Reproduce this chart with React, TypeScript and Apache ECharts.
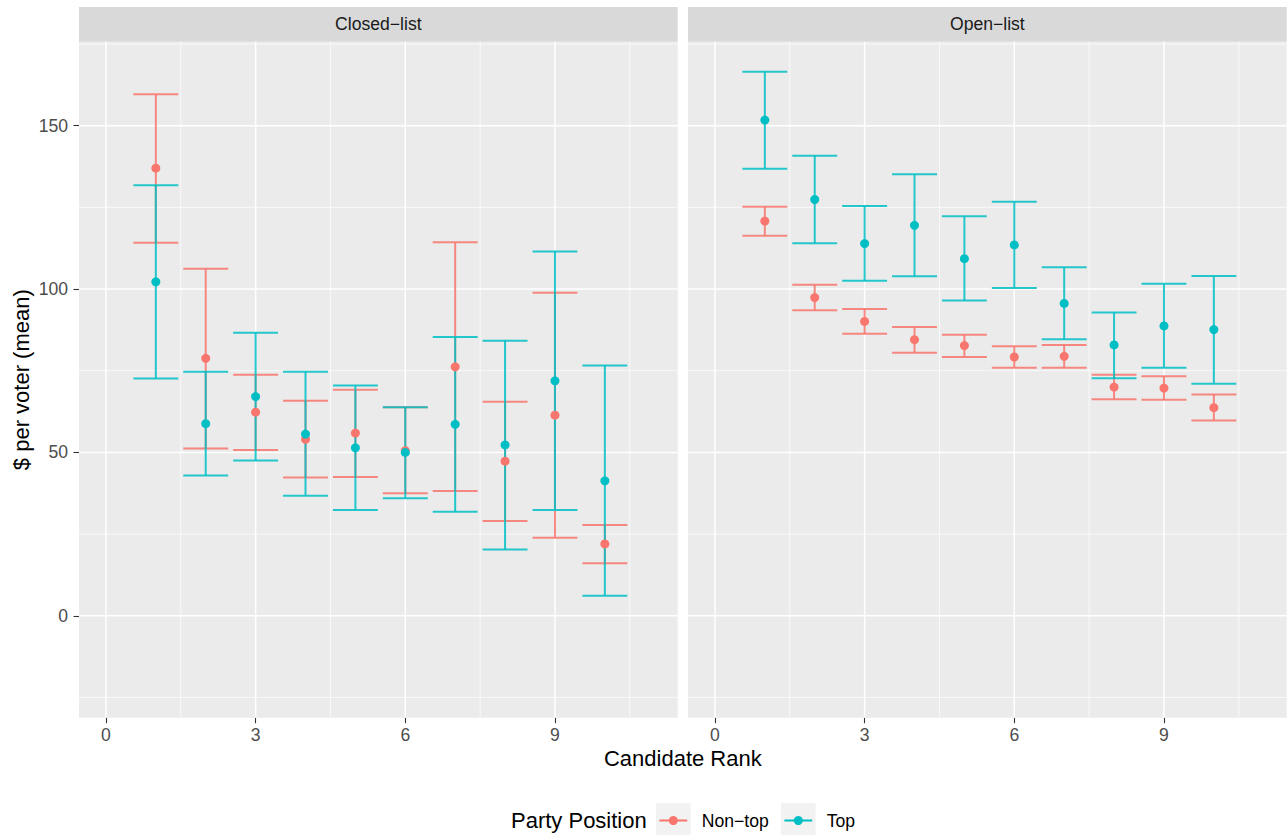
import React, { useEffect, useRef } from "react";
import * as echarts from "echarts";

const ranks = [1, 2, 3, 4, 5, 6, 7, 8, 9, 10];

const closedNonTopMean = [137.0, 78.8, 62.3, 54.0, 55.9, 50.5, 76.2, 47.3, 61.4, 22.0];
const closedNonTopLow = [114.2, 51.2, 50.7, 42.3, 42.5, 37.5, 38.2, 29.0, 23.9, 16.1];
const closedNonTopHigh = [159.6, 106.2, 73.8, 65.8, 69.2, 63.8, 114.3, 65.5, 98.9, 27.8];

const closedTopMean = [102.2, 58.8, 67.1, 55.6, 51.4, 50.0, 58.6, 52.3, 71.9, 41.3];
const closedTopLow = [72.6, 42.9, 47.5, 36.7, 32.4, 36.0, 31.8, 20.3, 32.4, 6.1];
const closedTopHigh = [131.8, 74.7, 86.6, 74.7, 70.5, 63.8, 85.3, 84.2, 111.5, 76.6];

const openNonTopMean = [120.8, 97.4, 90.1, 84.5, 82.7, 79.2, 79.4, 70.0, 69.7, 63.7];
const openNonTopLow = [116.3, 93.5, 86.3, 80.5, 79.2, 75.9, 75.9, 66.3, 66.1, 59.8];
const openNonTopHigh = [125.2, 101.3, 93.9, 88.4, 86.0, 82.5, 82.9, 73.8, 73.3, 67.7];

const openTopMean = [151.7, 127.4, 113.9, 119.5, 109.3, 113.5, 95.6, 82.9, 88.7, 87.6];
const openTopLow = [136.8, 114.0, 102.5, 103.9, 96.5, 100.3, 84.6, 72.7, 75.9, 71.0];
const openTopHigh = [166.5, 140.8, 125.4, 135.1, 122.3, 126.7, 106.7, 92.8, 101.6, 104.0];

const panelNames = ["Closed\u2212list", "Open\u2212list"];
const groupNames = ["Non\u2212top", "Top"];
const groupColors = ["#F8766D", "#00BFC4"];

const xMajorTicks = [0, 3, 6, 9];
const xMinorTicks = [1.5, 4.5, 7.5, 10.5];
const yMajorTicks = [0, 50, 100, 150];
const yMinorTicks = [-25, 25, 75, 125, 175];

const X_MIN = -0.54;
const X_MAX = 11.46;
const Y_MIN = -31.2;
const Y_MAX = 175.7;
const ERR_WIDTH = 0.9;

const FONT = "'Liberation Sans', Arial, Helvetica, sans-serif";

const panels = [
  {
    groups: [
      { mean: closedNonTopMean, low: closedNonTopLow, high: closedNonTopHigh },
      { mean: closedTopMean, low: closedTopLow, high: closedTopHigh },
    ],
  },
  {
    groups: [
      { mean: openNonTopMean, low: openNonTopLow, high: openNonTopHigh },
      { mean: openTopMean, low: openTopLow, high: openTopHigh },
    ],
  },
];

const GRID_TOP = 41.7;
const GRID_H = 676;
const GRID_W = 598.7;
const GRID_LEFTS = [79, 688];

function gridLineSeries(gi: number, values: number[], vertical: boolean, width: number) {
  return {
    type: "custom",
    xAxisIndex: gi,
    yAxisIndex: gi,
    silent: true,
    z: 1,
    clip: false,
    data: values.map((v) => (vertical ? [v, 0] : [0, v])),
    encode: { x: 0, y: 1 },
    renderItem: (params: any, api: any) => {
      const cs = params.coordSys;
      if (vertical) {
        const px = api.coord([api.value(0), 0])[0];
        return {
          type: "line",
          shape: { x1: px, y1: cs.y, x2: px, y2: cs.y + cs.height },
          style: { stroke: "#FFFFFF", lineWidth: width },
        };
      }
      const py = api.coord([0, api.value(1)])[1];
      return {
        type: "line",
        shape: { x1: cs.x, y1: py, x2: cs.x + cs.width, y2: py },
        style: { stroke: "#FFFFFF", lineWidth: width },
      };
    },
  };
}

function errorBarSeries(gi: number, name: string, color: string, low: number[], high: number[]) {
  return {
    type: "custom",
    name,
    xAxisIndex: gi,
    yAxisIndex: gi,
    silent: true,
    z: 2,
    data: ranks.map((r, i) => [r, low[i], high[i]]),
    encode: { x: 0, y: [1, 2] },
    renderItem: (params: any, api: any) => {
      const x = api.value(0);
      const pLo = api.coord([x, api.value(1)]);
      const pHi = api.coord([x, api.value(2)]);
      const half = api.size([ERR_WIDTH, 0])[0] / 2;
      const style = { stroke: color, lineWidth: 2, opacity: 0.85 };
      return {
        type: "group",
        children: [
          { type: "line", shape: { x1: pHi[0], y1: pHi[1], x2: pLo[0], y2: pLo[1] }, style },
          { type: "line", shape: { x1: pHi[0] - half, y1: pHi[1], x2: pHi[0] + half, y2: pHi[1] }, style },
          { type: "line", shape: { x1: pLo[0] - half, y1: pLo[1], x2: pLo[0] + half, y2: pLo[1] }, style },
        ],
      };
    },
  };
}

export default function App() {
  const ref = useRef<HTMLDivElement>(null);

  useEffect(() => {
    if (!ref.current) return;
    const chart = echarts.init(ref.current, null, { renderer: "svg" });

    const grids = GRID_LEFTS.map((left) => ({
      left,
      top: GRID_TOP,
      width: GRID_W,
      height: GRID_H,
      show: true,
      backgroundColor: "#EBEBEB",
      borderWidth: 0,
    }));

    const xAxes = GRID_LEFTS.map((_, gi) => ({
      gridIndex: gi,
      type: "value",
      position: "bottom",
      min: X_MIN,
      max: X_MAX,
      axisLine: { show: false, onZero: false },
      splitLine: { show: false },
      axisTick: {
        show: true,
        length: 5.5,
        customValues: xMajorTicks,
        lineStyle: { color: "#333333", width: 1.1 },
      },
      axisLabel: {
        customValues: xMajorTicks,
        margin: 8,
        fontSize: 17.6,
        color: "#4D4D4D",
        fontFamily: FONT,
      },
    }));

    const yAxes = GRID_LEFTS.map((_, gi) => ({
      gridIndex: gi,
      type: "value",
      position: "left",
      min: Y_MIN,
      max: Y_MAX,
      axisLine: { show: false, onZero: false },
      splitLine: { show: false },
      axisTick: {
        show: gi === 0,
        length: 5.5,
        customValues: yMajorTicks,
        lineStyle: { color: "#333333", width: 1.1 },
      },
      axisLabel: {
        show: gi === 0,
        customValues: yMajorTicks,
        margin: 11,
        fontSize: 17.6,
        color: "#4D4D4D",
        fontFamily: FONT,
      },
    }));

    const series: any[] = [];
    panels.forEach((panel, gi) => {
      series.push(gridLineSeries(gi, xMinorTicks, true, 0.7));
      series.push(gridLineSeries(gi, yMinorTicks, false, 0.7));
      series.push(gridLineSeries(gi, xMajorTicks, true, 1.5));
      series.push(gridLineSeries(gi, yMajorTicks, false, 1.5));
    });
    panels.forEach((panel, gi) => {
      panel.groups.forEach((g, k) => {
        series.push(errorBarSeries(gi, groupNames[k], groupColors[k], g.low, g.high));
      });
    });
    panels.forEach((panel, gi) => {
      panel.groups.forEach((g, k) => {
        series.push({
          type: "scatter",
          name: groupNames[k],
          xAxisIndex: gi,
          yAxisIndex: gi,
          silent: true,
          z: 3,
          symbol: "circle",
          symbolSize: 9,
          itemStyle: { color: groupColors[k], opacity: 1 },
          data: ranks.map((r, i) => [r, g.mean[i]]),
        });
      });
    });

    const graphics: any[] = [];
    GRID_LEFTS.forEach((left, gi) => {
      graphics.push({
        type: "rect",
        silent: true,
        shape: { x: left, y: 7, width: GRID_W, height: GRID_TOP - 7 },
        style: { fill: "#D9D9D9" },
      });
      graphics.push({
        type: "text",
        silent: true,
        x: left + GRID_W / 2,
        y: (7 + GRID_TOP) / 2,
        style: {
          text: panelNames[gi],
          fill: "#1A1A1A",
          font: `17.6px ${FONT}`,
          textAlign: "center",
          textVerticalAlign: "middle",
        },
      });
    });

    graphics.push({
      type: "text",
      silent: true,
      x: (GRID_LEFTS[0] + GRID_LEFTS[1] + GRID_W) / 2,
      y: 758.5,
      style: {
        text: "Candidate Rank",
        fill: "#000000",
        font: `22px ${FONT}`,
        textAlign: "center",
        textVerticalAlign: "middle",
      },
    });
    graphics.push({
      type: "text",
      silent: true,
      x: 21,
      y: GRID_TOP + GRID_H / 2,
      rotation: Math.PI / 2,
      style: {
        text: "$ per voter (mean)",
        fill: "#000000",
        font: `22px ${FONT}`,
        textAlign: "center",
        textVerticalAlign: "middle",
      },
    });

    // legend
    const LEG_Y = 820.5;
    graphics.push({
      type: "text",
      silent: true,
      x: 511,
      y: LEG_Y,
      style: {
        text: "Party Position",
        fill: "#000000",
        font: `22px ${FONT}`,
        textAlign: "left",
        textVerticalAlign: "middle",
      },
    });
    const keyLefts = [656, 781];
    const labelLefts = [701.7, 826.7];
    keyLefts.forEach((kx, k) => {
      graphics.push({
        type: "rect",
        silent: true,
        shape: { x: kx, y: 803, width: 34.6, height: 34.6 },
        style: { fill: "#F2F2F2" },
      });
      graphics.push({
        type: "line",
        silent: true,
        shape: { x1: kx + 3.4, y1: LEG_Y, x2: kx + 31.2, y2: LEG_Y },
        style: { stroke: groupColors[k], lineWidth: 2 },
      });
      graphics.push({
        type: "circle",
        silent: true,
        shape: { cx: kx + 17.3, cy: LEG_Y, r: 4.5 },
        style: { fill: groupColors[k] },
      });
      graphics.push({
        type: "text",
        silent: true,
        x: labelLefts[k],
        y: LEG_Y,
        style: {
          text: groupNames[k],
          fill: "#000000",
          font: `17.6px ${FONT}`,
          textAlign: "left",
          textVerticalAlign: "middle",
        },
      });
    });

    chart.setOption({
      animation: false,
      backgroundColor: "#FFFFFF",
      grid: grids,
      xAxis: xAxes,
      yAxis: yAxes,
      series,
      graphic: graphics,
    });

    return () => {
      chart.dispose();
    };
  }, []);

  return (
    <div
      ref={ref}
      style={{ position: "absolute", left: 0, top: 0, width: 1287, height: 835 }}
    />
  );
}
